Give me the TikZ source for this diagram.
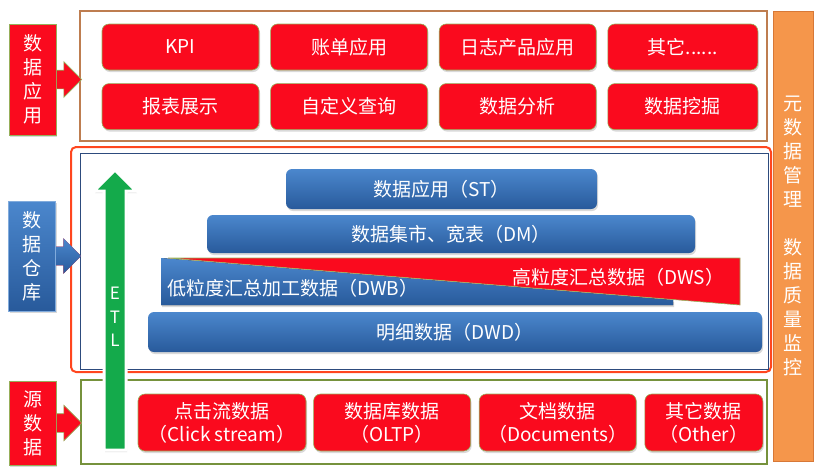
\documentclass[tikz,border=0pt]{standalone}
\usepackage{fontspec}
\newfontfamily\cjk{Noto Sans CJK SC}
\usetikzlibrary{shapes.arrows,shadows,positioning}

\definecolor{appred}{RGB}{250,10,30}
\definecolor{redrim}{RGB}{150,175,90}
\definecolor{framebrown}{RGB}{190,125,80}
\definecolor{dwframe}{RGB}{255,70,30}
\definecolor{dwinner}{RGB}{45,75,125}
\definecolor{srcgreen}{RGB}{118,146,60}
\definecolor{barlight}{RGB}{75,135,205}
\definecolor{bardark}{RGB}{40,90,155}
\definecolor{etlgreen}{RGB}{20,170,75}
\definecolor{metaorange}{RGB}{245,150,75}
\definecolor{metaedge}{RGB}{215,120,55}

\begin{document}
\begin{tikzpicture}[
    x=1pt, y=-1pt,
    node distance=11pt,
    appbox/.style={
        rectangle,
        rounded corners=7pt,
        draw=redrim,
        line width=0.6pt,
        fill=appred,
        text=white,
        minimum width=157pt,
        minimum height=46pt,
        inner sep=2pt,
        align=center,
        font={\cjk\fontsize{19}{23}\selectfont},
        drop shadow={opacity=0.3, shadow xshift=1pt, shadow yshift=-2pt}
    },
    dwbar/.style={
        rectangle,
        rounded corners=6pt,
        top color=barlight,
        bottom color=bardark,
        text=white,
        inner sep=3pt,
        font={\cjk\fontsize{19}{23}\selectfont},
        drop shadow={opacity=0.3, shadow xshift=1pt, shadow yshift=-2pt}
    },
    bartext/.style={
        text=white,
        inner sep=3pt,
        font={\cjk\fontsize{19}{23}\selectfont}
    },
    redlbl/.style={
        rectangle,
        draw=redrim,
        line width=0.6pt,
        fill=appred,
        text=white,
        minimum width=47pt,
        inner sep=2pt,
        align=center,
        font={\cjk\fontsize{19}{24}\selectfont},
        drop shadow={opacity=0.3, shadow xshift=1pt, shadow yshift=-2pt}
    },
    bluelbl/.style={
        redlbl,
        draw=barlight!70!white,
        top color=barlight,
        bottom color=bardark
    },
    redarrow/.style={
        single arrow,
        single arrow head extend=8.5pt,
        minimum height=25pt,
        inner xsep=0pt,
        inner ysep=9pt,
        anchor=tail,
        fill=appred,
        draw=redrim,
        line width=0.6pt
    },
    bluearrow/.style={
        redarrow,
        draw=none,
        top color=barlight,
        bottom color=bardark
    },
    metabox/.style={
        rectangle,
        draw=metaedge,
        line width=1pt,
        fill=metaorange,
        text=white,
        minimum width=40pt,
        minimum height=450pt,
        align=center,
        font={\cjk\fontsize{19}{24}\selectfont}
    },
    etlshape/.style={
        fill=etlgreen,
        draw=white,
        line width=3pt,
        drop shadow={opacity=0.3, shadow xshift=1pt, shadow yshift=-2pt}
    },
    etltext/.style={
        text=white,
        align=center,
        font={\cjk\fontsize{17}{23.5}\selectfont}
    },
]
\useasboundingbox (0,0) rectangle (821,475);

% frames
\draw[framebrown, line width=1.5pt] (80,11) rectangle (767,141);
\draw[dwframe, line width=2pt, rounded corners=5pt] (71,147) rectangle (771,372);
\draw[dwinner, line width=0.9pt] (80,153) rectangle (768,369);
\draw[srcgreen, line width=1.5pt] (81,380) rectangle (767,464);

% data applications
\node[appbox] (kpi) at (180.5,47) {KPI};
\node[appbox, right=of kpi] (bill) {账单应用};
\node[appbox, right=of bill] (logapp) {日志产品应用};
\node[appbox, right=of logapp, minimum width=150pt] (others) {其它......};

\node[appbox, below=13pt of kpi] (report) {报表展示};
\node[appbox, right=of report] (query) {自定义查询};
\node[appbox, right=of query] (analysis) {数据分析};
\node[appbox, right=of analysis, minimum width=150pt] (mining) {数据挖掘};

% warehouse layers
\node[dwbar, minimum width=311pt, minimum height=40pt] (st) at (441.5,189)
    {数据应用（ST）};
\node[dwbar, minimum width=488pt, minimum height=38pt] (dm) at (451,234)
    {数据集市、宽表（DM）};

\fill[top color=barlight, bottom color=bardark,
    drop shadow={opacity=0.3, shadow xshift=1pt, shadow yshift=-2pt}]
    (161,258) -- (673,300) -- (673,305) -- (161,305) -- cycle;
\filldraw[fill=appred, draw=redrim, line width=0.6pt]
    (168,258) -- (740,258) -- (740,305) -- cycle;
\node[bartext, anchor=west] (dwb) at (164,288) {低粒度汇总加工数据（DWB）};
\node[bartext, anchor=west] (dws) at (509,277) {高粒度汇总数据（DWS）};

\node[dwbar, minimum width=614pt, minimum height=40pt] (dwd) at (455,332)
    {明细数据（DWD）};

% data sources
\node[appbox, minimum width=168pt, minimum height=57pt] (click) at (222,422.5)
    {点击流数据\\（Click stream）};
\node[appbox, right=7pt of click, minimum height=57pt] (oltp)
    {数据库数据\\（OLTP）};
\node[appbox, right=8pt of oltp, minimum height=57pt] (docs)
    {文档数据\\（Documents）};
\node[appbox, right=8pt of docs, minimum width=118pt, minimum height=57pt] (othersrc)
    {其它数据\\（Other）};

% left labels
\node[redlbl, minimum height=111pt] (applbl) at (32.5,79.5) {数\\据\\应\\用};
\node[bluelbl, minimum height=110pt] (dwlbl) at (32,256) {数\\据\\仓\\库};
\node[redlbl, minimum height=84pt] (srclbl) at (32.5,423) {源\\数\\据};

\node[redarrow] (apparr) at (applbl.east) {};
\node[bluearrow] (dwarr) at (dwlbl.east) {};
\node[redarrow] (srcarr) at (srclbl.east) {};

% metadata column
\node[metabox] (meta) at (793,236)
    {元\\数\\据\\管\\理\\[24pt]数\\据\\质\\量\\监\\控};

% ETL
\filldraw[etlshape] (115,170) -- (136,191) -- (126,191) -- (126,450)
    -- (104,450) -- (104,191) -- (94,191) -- cycle;
\node[etltext] (etl) at (115,317) {E\\T\\L};

\end{tikzpicture}
\end{document}
